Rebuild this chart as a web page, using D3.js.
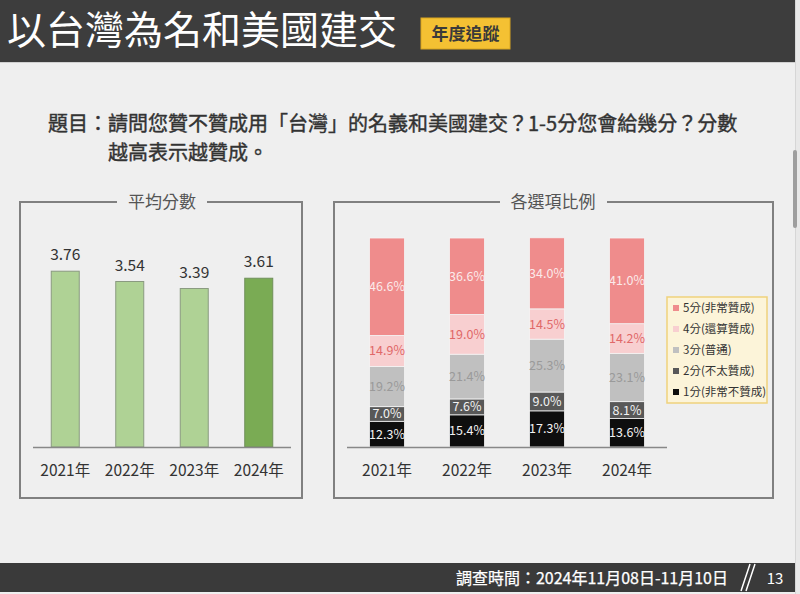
<!DOCTYPE html>
<html><head><meta charset="utf-8">
<script src="https://cdn.jsdelivr.net/npm/d3@7"></script>
<style>
html,body{margin:0;padding:0;background:#efefef;}
svg{display:block;font-family:"Noto Sans CJK TC","Noto Sans",sans-serif;}
</style></head>
<body>
<svg id="chart" width="800" height="594"></svg>
<script>
const years = ["2021年", "2022年", "2023年", "2024年"];
const avgScores = [3.76, 3.54, 3.39, 3.61];
const optionNames = ["1分(非常不贊成)", "2分(不太贊成)", "3分(普通)", "4分(還算贊成)", "5分(非常贊成)"];
const score1 = [12.3, 15.4, 17.3, 13.6];
const score2 = [7.0, 7.6, 9.0, 8.1];
const score3 = [19.2, 21.4, 25.3, 23.1];
const score4 = [14.9, 19.0, 14.5, 14.2];
const score5 = [46.6, 36.6, 34.0, 41.0];
const titleText = "以台灣為名和美國建交";
const badgeText = "年度追蹤";
const questionLine1 = "題目：請問您贊不贊成用「台灣」的名義和美國建交？1-5分您會給幾分？分數";
const questionLine2 = "越高表示越贊成。";
const leftTitle = "平均分數";
const rightTitle = "各選項比例";
const footerText = "調查時間：2024年11月08日-11月10日";
const pageNo = "13";

const svg = d3.select("#chart");
svg.append("rect").attr("x",0).attr("y",0).attr("width",800).attr("height",594).attr("fill","#efefef");
// right scroll strip
svg.append("rect").attr("x",795).attr("y",0).attr("width",5).attr("height",594).attr("fill","#e8e8e8");
svg.append("line").attr("x1",795.5).attr("x2",795.5).attr("y1",0).attr("y2",594).attr("stroke","#d6d6d6");
svg.append("rect").attr("x",793).attr("y",150).attr("width",4).attr("height",78).attr("rx",2).attr("fill","#9e9e9e");

// header
svg.append("rect").attr("x",0).attr("y",0).attr("width",795).attr("height",62).attr("fill","#3d3d3d");
svg.append("line").attr("x1",0).attr("x2",795).attr("y1",62.5).attr("y2",62.5).attr("stroke","#d0d0d0");
svg.append("text").attr("x",7).attr("y",44).attr("fill","#fff").attr("font-size",39).attr("font-weight","normal")
  .text(titleText);
svg.append("rect").attr("x",421).attr("y",18).attr("width",89).attr("height",31).attr("fill","#f4c133").attr("stroke","#d9a520");
svg.append("text").attr("x",465.5).attr("y",40).attr("text-anchor","middle").attr("fill","#3a3a3a")
  .attr("font-size",17).attr("font-weight","bold").text(badgeText);

// question
svg.append("text").attr("x",48).attr("y",131).attr("fill","#333").attr("font-size",20)
  .attr("stroke","#333").attr("stroke-width",0.4).text(questionLine1);
svg.append("text").attr("x",108).attr("y",160).attr("fill","#333").attr("font-size",20)
  .attr("stroke","#333").attr("stroke-width",0.4).text(questionLine2);

// panel boxes
function panel(x0, x1, y0, y1, gap0, gap1, title, cx) {
  const p = d3.path();
  p.moveTo(gap0, y0); p.lineTo(x0, y0); p.lineTo(x0, y1); p.lineTo(x1, y1); p.lineTo(x1, y0); p.lineTo(gap1, y0);
  svg.append("path").attr("d", p.toString()).attr("fill","none").attr("stroke","#808080").attr("stroke-width",2);
  svg.append("text").attr("x",cx).attr("y",y0+6).attr("text-anchor","middle").attr("fill","#555")
    .attr("font-size",17).text(title);
}
panel(20, 302, 202, 498, 117, 207, leftTitle, 162);
panel(334, 773, 202, 498, 500, 607, rightTitle, 553);

// ---------- left chart ----------
const xL = d3.scaleBand().domain(years).range([33, 291]);
const yL = d3.scaleLinear().domain([0, 4]).range([447, 260]);
const barWL = 28;
const gL = svg.append("g");
gL.selectAll("rect.bar").data(avgScores).join("rect")
  .attr("x",(d,i)=>xL(years[i]) + xL.bandwidth()/2 - barWL/2)
  .attr("y",d=>yL(d)).attr("width",barWL).attr("height",d=>yL(0)-yL(d))
  .attr("fill",(d,i)=> i===years.length-1 ? "#7aab54" : "#afd295")
  .attr("stroke",(d,i)=> i===years.length-1 ? "#6f8f5a" : "#8a9a80").attr("stroke-width",1);
gL.selectAll("text.val").data(avgScores).join("text")
  .attr("x",(d,i)=>xL(years[i]) + xL.bandwidth()/2).attr("y",d=>yL(d)-11)
  .attr("text-anchor","middle").attr("fill","#333").attr("font-size",15.5).text(d=>d.toFixed(2));
gL.append("line").attr("x1",33).attr("x2",291).attr("y1",447.5).attr("y2",447.5).attr("stroke","#888").attr("stroke-width",1.5);
const axL = gL.append("g").attr("transform","translate(0,447)").call(d3.axisBottom(xL).tickSize(0).tickPadding(18));
axL.select(".domain").remove();
axL.selectAll("text").attr("font-size",15.5).attr("fill","#333").attr("font-family","\"Noto Sans CJK TC\",sans-serif");

// ---------- right chart ----------
const keys = ["s1","s2","s3","s4","s5"];
const rows = years.map((y,i)=>({year:y, s1:score1[i], s2:score2[i], s3:score3[i], s4:score4[i], s5:score5[i]}));
const stack = d3.stack().keys(keys)(rows);
const xR = d3.scaleBand().domain(years).range([347, 667]);
const yR = d3.scaleLinear().domain([0, 100]).range([447, 238]);
const barWR = 35;
const fillC = {s1:"#0e0e0e", s2:"#585858", s3:"#c0c0c0", s4:"#f8cfd0", s5:"#ef8c8c"};
const labC = {s1:"#f2f2f2", s2:"#f2f2f2", s3:"#9a9a9a", s4:"#e06868", s5:"#fbeaea"};
const gR = svg.append("g");
stack.forEach(layer=>{
  const k = layer.key;
  gR.selectAll("rect."+k).data(layer).join("rect").attr("class",k)
    .attr("x",d=>xR(d.data.year)+xR.bandwidth()/2-barWR/2)
    .attr("y",d=>yR(d[1])).attr("width",barWR).attr("height",d=>yR(d[0])-yR(d[1]))
    .attr("fill",fillC[k]).attr("stroke","#f4f4f4").attr("stroke-width",0.8);
  gR.selectAll("text."+k).data(layer).join("text").attr("class",k)
    .attr("x",d=>xR(d.data.year)+xR.bandwidth()/2)
    .attr("y",d=>(yR(d[0])+yR(d[1]))/2)
    .attr("dy","0.36em").attr("text-anchor","middle").attr("fill",labC[k]).attr("font-size",12.5)
    .text(d=>d.data[k].toFixed(1)+"%");
});
gR.append("line").attr("x1",347).attr("x2",667).attr("y1",447.5).attr("y2",447.5).attr("stroke","#888").attr("stroke-width",1.5);
const axR = gR.append("g").attr("transform","translate(0,447)").call(d3.axisBottom(xR).tickSize(0).tickPadding(18));
axR.select(".domain").remove();
axR.selectAll("text").attr("font-size",15.5).attr("fill","#333").attr("font-family","\"Noto Sans CJK TC\",sans-serif");

// legend
const lg = svg.append("g");
lg.append("rect").attr("x",667).attr("y",297).attr("width",100).attr("height",106).attr("fill","#fcf4d9").attr("stroke","#efd27c").attr("stroke-width",1.5);
const legendOrder = [4,3,2,1,0];
legendOrder.forEach((ki,j)=>{
  const cy = 308 + j*21;
  lg.append("rect").attr("x",673).attr("y",cy-3).attr("width",6).attr("height",6).attr("fill",fillC[keys[ki]]);
  lg.append("text").attr("x",683).attr("y",cy).attr("dy","0.36em").attr("font-size",11.5).attr("fill","#333").text(optionNames[ki]);
});

// footer
svg.append("rect").attr("x",0).attr("y",563).attr("width",795).attr("height",29).attr("fill","#3a3a3a");
svg.append("text").attr("x",728).attr("y",584).attr("text-anchor","end").attr("fill","#fff").attr("font-size",16)
  .attr("stroke","#fff").attr("stroke-width",0.25).text(footerText);
svg.append("line").attr("x1",741).attr("y1",591).attr("x2",750).attr("y2",564).attr("stroke","#fff").attr("stroke-width",1.5);
svg.append("line").attr("x1",746).attr("y1",591).attr("x2",755).attr("y2",564).attr("stroke","#fff").attr("stroke-width",1.5);
svg.append("text").attr("x",775).attr("y",584).attr("text-anchor","middle").attr("fill","#fff").attr("font-size",15).text(pageNo);
</script>
</body></html>
